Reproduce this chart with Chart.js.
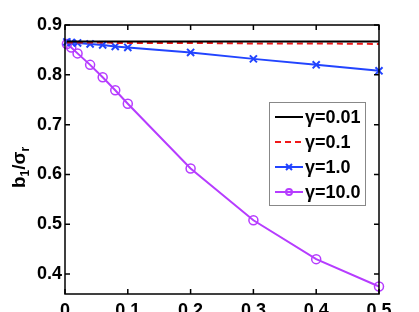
<!DOCTYPE html>
<html>
<head>
<meta charset="utf-8">
<script src="https://cdn.jsdelivr.net/npm/chart.js@4.4.0/dist/chart.umd.min.js"></script>
<style>
  html, body { margin: 0; padding: 0; background: #fff; }
  #wrap { width: 419px; height: 312px; }
</style>
</head>
<body>
<div id="wrap"><canvas id="firstChart" width="419" height="312"></canvas></div>
<script>
// data
const xValues = [0.003, 0.01, 0.02, 0.04, 0.06, 0.08, 0.1, 0.2, 0.3, 0.4, 0.5];
const gamma001 = [0.867, 0.867, 0.867, 0.867, 0.867, 0.867, 0.867, 0.867, 0.867, 0.867, 0.867];
const gamma01 = [0.865, 0.865, 0.865, 0.865, 0.865, 0.864, 0.864, 0.864, 0.863, 0.863, 0.862];
const gamma1 = [0.866, 0.865, 0.864, 0.862, 0.860, 0.857, 0.855, 0.845, 0.832, 0.820, 0.808];
const gamma10 = [0.862, 0.855, 0.843, 0.820, 0.795, 0.769, 0.742, 0.612, 0.508, 0.430, 0.375];
const seriesNames = ['γ=0.01', 'γ=0.1', 'γ=1.0', 'γ=10.0'];
const xTicks = [0, 0.1, 0.2, 0.3, 0.4, 0.5];
const yTicks = [0.4, 0.5, 0.6, 0.7, 0.8, 0.9];

const FONT = 'Liberation Sans, Arial, sans-serif';

function pts(ys) {
    return xValues.map((x, i) => ({ x: x, y: ys[i] }));
}

// box, inward ticks, y label and legend
const decorations = {
    id: 'decorations',
    afterDraw(chart) {
        const c = chart.ctx;
        const a = chart.chartArea;
        const xs = chart.scales.x, ys = chart.scales.y;
        c.save();
        c.strokeStyle = '#000';
        c.lineWidth = 1.5;
        c.strokeRect(a.left, a.top, a.right - a.left, a.bottom - a.top);
        c.beginPath();
        xTicks.forEach(v => {
            const px = xs.getPixelForValue(v);
            c.moveTo(px, a.bottom); c.lineTo(px, a.bottom - 5);
            c.moveTo(px, a.top); c.lineTo(px, a.top + 5);
        });
        yTicks.forEach(v => {
            const py = ys.getPixelForValue(v);
            c.moveTo(a.left, py); c.lineTo(a.left + 5, py);
            c.moveTo(a.right, py); c.lineTo(a.right - 5, py);
        });
        c.stroke();

        // y axis label b1/σr with subscripts
        c.save();
        c.translate(25, 188);
        c.rotate(-Math.PI / 2);
        c.fillStyle = '#000';
        c.textBaseline = 'alphabetic';
        c.textAlign = 'left';
        let x = 0;
        c.font = 'bold 19px ' + FONT;
        c.fillText('b', x, 0); x += c.measureText('b').width;
        c.font = 'bold 12px ' + FONT;
        c.fillText('1', x, 4); x += c.measureText('1').width;
        c.font = 'bold 19px ' + FONT;
        c.fillText('/σ', x, 0); x += c.measureText('/σ').width;
        c.font = 'bold 12px ' + FONT;
        c.fillText('r', x, 4);
        c.restore();

        // legend
        const lx = 269, ly = 102, lw = 96, lh = 103;
        c.fillStyle = '#fff';
        c.fillRect(lx, ly, lw, lh);
        c.strokeStyle = '#888';
        c.lineWidth = 1;
        c.strokeRect(lx + 0.5, ly + 0.5, lw, lh);
        chart.data.datasets.forEach((ds, i) => {
            const yy = 117 + i * 25;
            c.strokeStyle = ds.borderColor;
            c.lineWidth = 2;
            c.setLineDash(ds.borderDash || []);
            c.beginPath();
            c.moveTo(275, yy); c.lineTo(303, yy);
            c.stroke();
            c.setLineDash([]);
            if (ds.pointStyle === 'crossRot') {
                c.beginPath();
                c.moveTo(286, yy - 3); c.lineTo(292, yy + 3);
                c.moveTo(286, yy + 3); c.lineTo(292, yy - 3);
                c.stroke();
            } else if (ds.pointStyle === 'circle' && ds.pointRadius > 0) {
                c.beginPath();
                c.arc(289, yy, 3, 0, Math.PI * 2);
                c.stroke();
            }
            c.fillStyle = '#000';
            c.font = 'bold 18px ' + FONT;
            c.textBaseline = 'middle';
            c.fillText(ds.label, 305, yy + 1);
        });
        c.restore();
    }
};

const ctx = document.getElementById('firstChart').getContext('2d');
const chart = new Chart(ctx, {
    type: 'line',
    data: {
        datasets: [{
            label: seriesNames[0],
            data: pts(gamma001),
            borderColor: '#000000',
            borderWidth: 2,
            pointRadius: 0,
            pointStyle: false
        }, {
            label: seriesNames[1],
            data: pts(gamma01),
            borderColor: '#f01818',
            borderWidth: 2,
            borderDash: [6, 4],
            pointRadius: 0,
            pointStyle: false
        }, {
            label: seriesNames[2],
            data: pts(gamma1),
            borderColor: '#2244ff',
            borderWidth: 2,
            pointStyle: 'crossRot',
            pointRadius: 5,
            pointBorderWidth: 2
        }, {
            label: seriesNames[3],
            data: pts(gamma10),
            borderColor: '#b63cff',
            borderWidth: 2,
            pointStyle: 'circle',
            pointRadius: 4.5,
            pointBorderWidth: 1.5,
            pointBackgroundColor: 'rgba(0,0,0,0)'
        }]
    },
    options: {
        responsive: false,
        animation: false,
        clip: false,
        layout: { padding: { left: 0, top: 25, right: 40, bottom: 0 } },
        plugins: {
            legend: { display: false },
            tooltip: { enabled: false }
        },
        scales: {
            x: {
                type: 'linear',
                min: 0,
                max: 0.5,
                afterBuildTicks: s => { s.ticks = xTicks.map(v => ({ value: v })); },
                afterFit: s => { s.height = 18; },
                grid: { display: false, drawTicks: false },
                border: { display: false },
                ticks: {
                    padding: 6,
                    color: '#000',
                    font: { family: FONT, size: 18, weight: 'bold' },
                    maxRotation: 0,
                    callback: v => v === 0 ? '0' : v.toFixed(1)
                }
            },
            y: {
                type: 'linear',
                min: 0.36,
                max: 0.9,
                afterBuildTicks: s => { s.ticks = yTicks.map(v => ({ value: v })); },
                afterFit: s => { s.width = 65; },
                grid: { display: false, drawTicks: false },
                border: { display: false },
                ticks: {
                    padding: 3,
                    color: '#000',
                    font: { family: FONT, size: 18, weight: 'bold' },
                    callback: v => v.toFixed(1)
                }
            }
        }
    },
    plugins: [decorations]
});
</script>
</body>
</html>
